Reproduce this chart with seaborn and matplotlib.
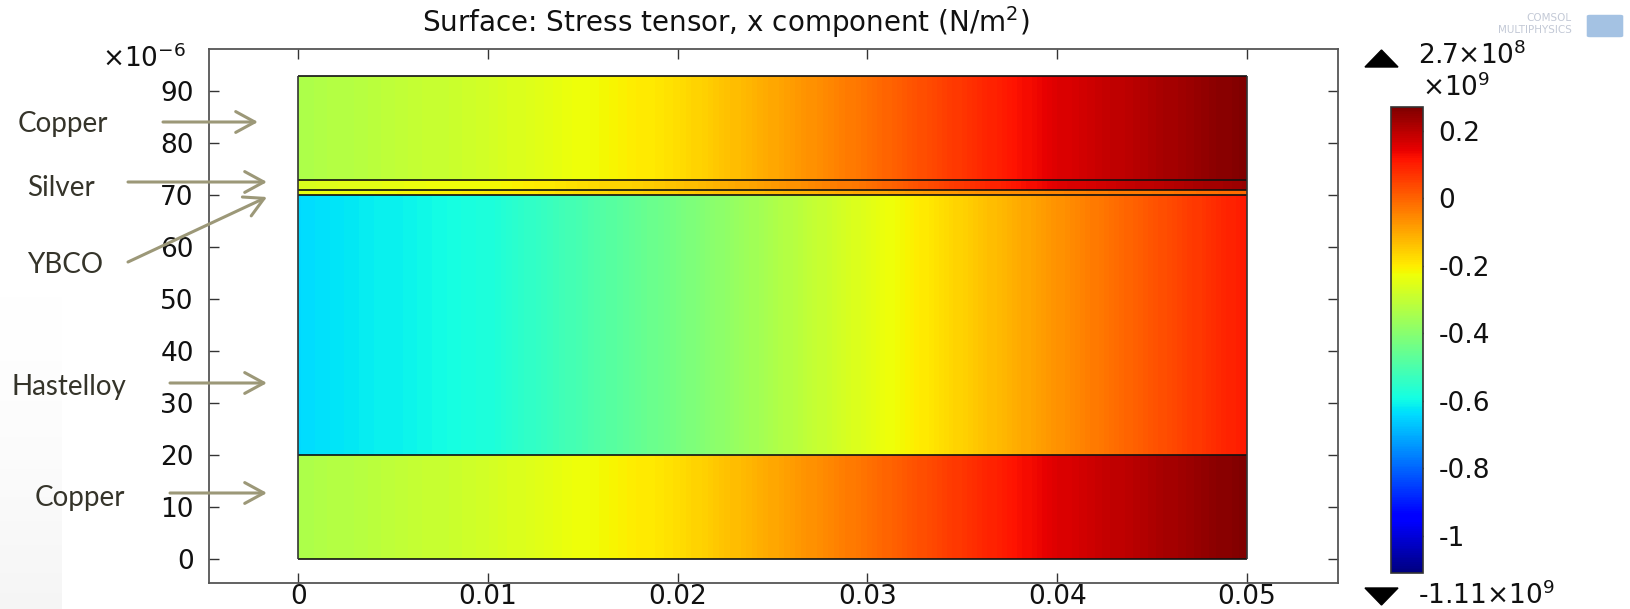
import numpy as np
import matplotlib
matplotlib.use("Agg")
import matplotlib.pyplot as plt
import seaborn as sns
from matplotlib.ticker import ScalarFormatter, FixedLocator
from matplotlib.colors import Normalize
from matplotlib.cm import ScalarMappable
from matplotlib.patches import Polygon, FancyBboxPatch

# ---------------- data ----------------
title_text = "Surface: Stress tensor, x component (N/m$^2$)"
x_positions_m = [0.0, 0.01, 0.02, 0.03, 0.04, 0.05]
layer_names = ["Copper", "Hastelloy", "YBCO", "Silver", "Copper"]
layer_bottom_um = [0, 20, 70, 71, 73]
layer_top_um = [20, 70, 71, 73, 93]
# sigma_xx in units of 1e9 N/m^2 at x_positions_m, per layer
stress_copper_bottom = [-0.34, -0.275, -0.18, -0.02, 0.155, 0.27]
stress_hastelloy = [-0.64, -0.58, -0.43, -0.25, -0.07, 0.11]
stress_ybco = [-0.24, -0.20, -0.15, -0.10, -0.05, -0.01]
stress_silver = [-0.26, -0.22, -0.14, -0.02, 0.15, 0.24]
stress_copper_top = [-0.34, -0.275, -0.18, -0.02, 0.155, 0.27]
stress_min_GPa = -1.11
stress_max_GPa = 0.27
cbar_ticks_GPa = [-1, -0.8, -0.6, -0.4, -0.2, 0, 0.2]
x_ticks = [0, 0.01, 0.02, 0.03, 0.04, 0.05]
y_ticks_um = [0, 10, 20, 30, 40, 50, 60, 70, 80, 90]
annotation_labels = ["Copper", "Silver", "YBCO", "Hastelloy", "Copper"]

# ---------------- style ----------------
sns.set_theme(style="ticks")
plt.rcParams["font.family"] = ["DejaVu Sans"]
plt.rcParams["axes.unicode_minus"] = False
plt.rcParams["mathtext.fontset"] = "dejavusans"

W, H = 1631, 609
fig = plt.figure(figsize=(W / 100, H / 100), dpi=100)
fig.patch.set_facecolor("white")


def fx(px):
    return px / W


def fy(py):
    return 1 - py / H


# faint slide-background shading in the lower-left corner
bg = fig.add_axes([0, 0, fx(62), 1 - fy(400)], zorder=-5)
bg.imshow(np.linspace(0, 1, 100)[:, None] ** 2, aspect="auto", origin="upper",
          cmap="Greys", vmin=0, vmax=12, extent=(0, 1, 0, 1))
bg.set_axis_off()

ax = fig.add_axes([fx(209), fy(583), fx(1338) - fx(209), fy(49) - fy(583)])
cax = fig.add_axes([fx(1391), fy(573), fx(1423) - fx(1391), fy(107) - fy(573)])

cmap = matplotlib.colormaps["jet"]
norm = Normalize(stress_min_GPa * 1e9, stress_max_GPa * 1e9)
levels = np.linspace(norm.vmin, norm.vmax, 300)

layers_stress = [stress_copper_bottom, stress_hastelloy, stress_ybco,
                 stress_silver, stress_copper_top]
X = np.array(x_positions_m)
for b, t, s in zip(layer_bottom_um, layer_top_um, layers_stress):
    Y = np.array([b, t]) * 1e-6
    C = np.vstack([s, s]) * 1e9
    ax.contourf(X, Y, C, levels=levels, cmap=cmap, norm=norm, antialiased=False)

# interfaces and outline
bounds = np.array(sorted(set(layer_bottom_um + layer_top_um))) * 1e-6
ax.hlines(bounds, X[0], X[-1], colors="#111111", linewidth=1.2, zorder=3)
ax.vlines([X[0], X[-1]], bounds[0], bounds[-1], colors="#333333", linewidth=1.2, zorder=3)

ax.set_xlim(-0.0047, 0.0548)
ax.set_ylim(-4.6e-6, 98.1e-6)


class GFormatter(ScalarFormatter):
    def _set_format(self):
        self.format = "%g"


ax.xaxis.set_major_locator(FixedLocator(x_ticks))
ax.yaxis.set_major_locator(FixedLocator(np.array(y_ticks_um) * 1e-6))
xfmt = GFormatter(useOffset=False)
ax.xaxis.set_major_formatter(xfmt)
yfmt = GFormatter(useMathText=True, useOffset=False)
yfmt.set_powerlimits((-6, -6))
ax.yaxis.set_major_formatter(yfmt)

ax.tick_params(direction="in", length=7, width=1, colors="#333333",
               top=True, right=True, labelsize=19, labelcolor="#111111")
ax.tick_params(axis="y", pad=11)
ax.tick_params(axis="x", pad=0.5)
for sp in ax.spines.values():
    sp.set_color("#555555")
    sp.set_linewidth(1.3)
off = ax.yaxis.get_offset_text()
off.set_fontsize(19)
off.set_horizontalalignment("right")
off.set_verticalalignment("top")
off.set_x(-0.02)

# colorbar
sm = ScalarMappable(norm=norm, cmap=cmap)
cb = fig.colorbar(sm, cax=cax)
cb.set_ticks(np.array(cbar_ticks_GPa) * 1e9)
cfmt = GFormatter(useMathText=True, useOffset=False)
cfmt.set_powerlimits((9, 9))
cb.formatter = cfmt
cb.update_ticks()
cb.minorticks_off()
cax.tick_params(direction="in", left=True, right=True, length=5, width=1,
                colors="#333333", labelsize=19, labelcolor="#111111", pad=11)
cb.outline.set_linewidth(1.2)
cb.outline.set_edgecolor("#333333")
coff = cax.yaxis.get_offset_text()
coff.set_fontsize(19)
coff.set_horizontalalignment("left")
coff.set_x(0.97)
cax.yaxis.OFFSETTEXTPAD = 8

# max / min markers
up = Polygon([[fx(1365), fy(67)], [fx(1398), fy(67)], [fx(1381.5), fy(50)]],
             closed=True, transform=fig.transFigure, color="black")
dn = Polygon([[fx(1365), fy(588)], [fx(1398), fy(588)], [fx(1381.5), fy(605)]],
             closed=True, transform=fig.transFigure, color="black")
fig.add_artist(up)
fig.add_artist(dn)
fig.text(fx(1418), fy(56), "%g$\\times$10$^{8}$" % (stress_max_GPa * 10),
         ha="left", va="center", fontsize=19, color="#111111")
fig.text(fx(1418), fy(596), "%g$\\times$10$^{9}$" % stress_min_GPa,
         ha="left", va="center", fontsize=19, color="#111111")

# title
fig.text(0.445, fy(22), title_text, ha="center", va="center", fontsize=20,
         color="#111111")

# COMSOL logo
fig.text(fx(1572), fy(18), "COMSOL", ha="right", va="center", fontsize=7.5,
         color="#c3c9d6")
fig.text(fx(1572), fy(30), "MULTIPHYSICS", ha="right", va="center", fontsize=7.5,
         color="#c3c9d6")
fig.add_artist(FancyBboxPatch((fx(1590), fy(36)), fx(30), 20 / H,
                              boxstyle="round,pad=0.002", transform=fig.transFigure,
                              facecolor="#8db3dc", edgecolor="none", alpha=0.8))

# layer annotations
label_pos = [(18, 124), (27, 188), (27, 265), (12, 387), (35, 498)]
arrow_pos = [((163, 122), (258, 122)), ((128, 182), (267, 182)),
             ((128, 262), (267, 197)), ((170, 383), (267, 383)),
             ((170, 493), (267, 493))]
for name, (tx, ty), ((ax0, ay0), (ax1, ay1)) in zip(annotation_labels, label_pos, arrow_pos):
    fig.text(fx(tx), fy(ty), name, ha="left", va="center", fontsize=20,
             family=["Lato", "DejaVu Sans"], color="#35342a")
    ax.annotate("", xy=(fx(ax1), fy(ay1)), xycoords="figure fraction",
                xytext=(fx(ax0), fy(ay0)), textcoords="figure fraction",
                arrowprops=dict(arrowstyle="->,head_length=0.55,head_width=0.3",
                                color="#9c9878", lw=2.2, mutation_scale=25,
                                shrinkA=0, shrinkB=0),
                annotation_clip=False)

fig.savefig("out.png", dpi=100)
